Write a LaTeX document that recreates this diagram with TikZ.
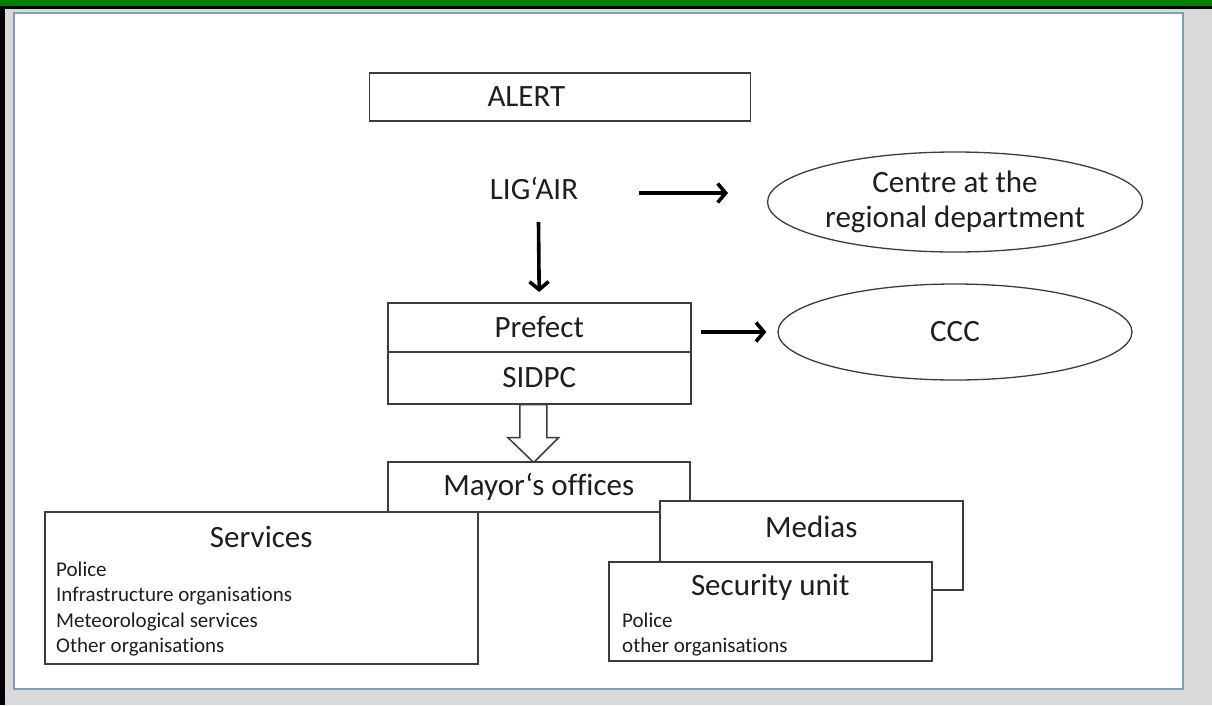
\documentclass[tikz,border=0pt]{standalone}
\usepackage{fontspec}
\setmainfont{Carlito}[Ligatures=NoCommon]
\usetikzlibrary{arrows.meta,shapes.geometric}
\definecolor{banner}{RGB}{0,128,0}
\definecolor{backdrop}{RGB}{217,217,217}
\definecolor{panelrule}{RGB}{127,157,185}
\definecolor{ink}{RGB}{30,30,30}
\definecolor{rule}{RGB}{60,60,60}
\begin{document}
\begin{tikzpicture}[x=1pt,y=-1pt,
  box/.style={draw=rule, line width=1.5pt, fill=white, inner sep=0pt},
  bubble/.style={ellipse, draw=rule, line width=1.3pt, fill=white, inner sep=0pt},
  big/.style={font=\fontsize{31}{35}\selectfont, text=ink, inner sep=0pt},
  small/.style={font=\fontsize{21}{25}\selectfont, text=ink, inner sep=0pt},
  arr/.style={draw=black, line width=3.6pt, -{Straight Barb[length=8pt,width=19pt]}},
  hollow/.style={draw=rule, line width=1.5pt, fill=white, line join=miter}
]
\useasboundingbox (0,0) rectangle (1212,705);

% frame: backdrop, green banner, black rules and the white panel
\fill[backdrop] (0,0) rectangle (1212,705);
\fill[banner] (0,0) rectangle (1212,6);
\fill[black] (0,6) rectangle (1212,8.5);
\fill[black] (0,6) rectangle (4.5,705);
\draw[panelrule, line width=2pt, fill=white] (14,13) rectangle (1183,689);

% alert chain
\node[box, big, inner xsep=118pt, text width=145pt, align=left, minimum height=48pt] (alert) at (560,97) {ALERT};
\node[big] (lig) at (534,188) {LIG‘AIR};
\node[bubble, big, align=center, minimum width=375pt, minimum height=100pt] (centre) at (955,202) {Centre at the\\regional department};

\node[box, big, minimum width=303pt, minimum height=49pt, anchor=north west] (prefect) at (387,302) {Prefect};
\node[box, big, minimum width=303pt, minimum height=52pt, anchor=north west] (sidpc) at (387,351) {SIDPC};
\node[bubble, big, minimum width=354pt, minimum height=96pt] (ccc) at (955,332) {CCC};

% connectors
\coordinate (ligout) at (639,193);
\coordinate (centrein) at (728,193);
\draw[arr] (ligout) -- (centrein);
\coordinate (ligdown) at (538.5,222);
\draw[arr, shorten >=10pt] (ligdown) -- (prefect.north);
\draw[arr, shorten <=9pt, shorten >=11pt] (prefect.east |- ccc.west) -- (ccc.west);

% block arrow from the SIDPC down to the mayors
\draw[hollow] ([xshift=-19.5pt]sidpc.south) -- ++(27,0) -- ++(0,33) -- ++(12,0)
  -- ++(-25,25) -- ++(-26,-25) -- ++(12,0) -- cycle;

\node[box, big, minimum width=302pt, minimum height=50pt, anchor=north west] (mayor) at (387,461) {Mayor‘s offices};

% services
\node[box, minimum width=433pt, minimum height=152pt, anchor=north west] (services) at (44,511) {};
\node[big] (servtitle) at ([yshift=-26pt]services.north) {Services};
\node[small, anchor=base west] (serv1) at ([xshift=12pt, yshift=-65pt]services.north west) {Police};
\node[small, anchor=base west] (serv2) at ([xshift=12pt, yshift=-90.5pt]services.north west) {Infrastructure organisations};
\node[small, anchor=base west] (serv3) at ([xshift=12pt, yshift=-116pt]services.north west) {Meteorological services};
\node[small, anchor=base west] (serv4) at ([xshift=12pt, yshift=-141.5pt]services.north west) {Other organisations};

% medias and security unit
\node[box, minimum width=303pt, minimum height=89pt, anchor=north west] (medias) at (659,500) {};
\node[big] (medtitle) at ([yshift=-27pt]medias.north) {Medias};
\node[box, minimum width=323pt, minimum height=99pt, anchor=north west] (security) at (608,561) {};
\node[big] (sectitle) at ([yshift=-26pt]security.north) {Security unit};
\node[small, anchor=base west] (sec1) at ([xshift=14pt, yshift=-66pt]security.north west) {Police};
\node[small, anchor=base west] (sec2) at ([xshift=14pt, yshift=-91pt]security.north west) {other organisations};
\end{tikzpicture}
\end{document}
